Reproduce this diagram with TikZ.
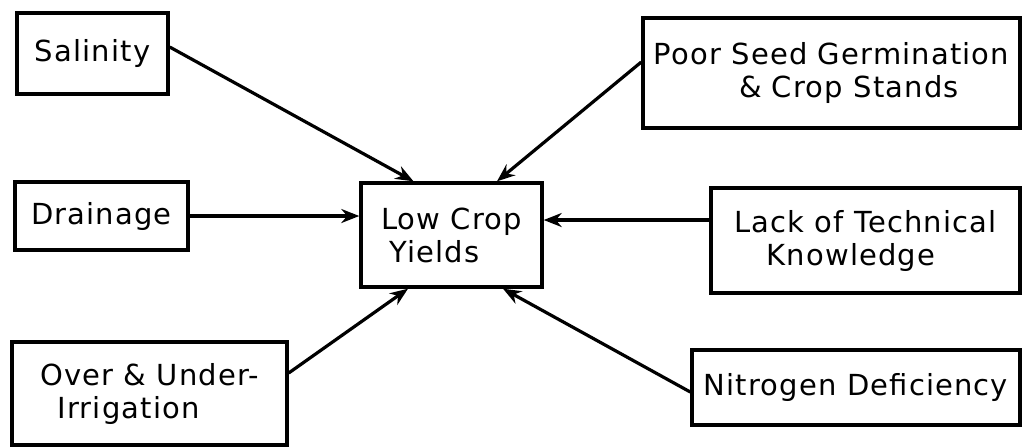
\documentclass[tikz,border=0pt]{standalone}
\usepackage{fontspec}
\setmainfont{DejaVu Sans}[LetterSpace=4]
\usetikzlibrary{arrows.meta}
\begin{document}
\begin{tikzpicture}[x=0.5pt,y=-0.5pt,
    box/.style={draw,line width=1.7pt,inner sep=0pt,font=\fontsize{14.5}{16.5}\selectfont},
    arr/.style={line width=1.6pt,-{Stealth[length=9pt,width=7pt]}}]
    \useasboundingbox (0,0) rectangle (1029,447);
    % boxes (positions in pixels of the reference)
    \node[box,minimum width=75.5pt,minimum height=40.5pt] (sal) at (92.5,53.5) {Salinity};
    \node[box,minimum width=86.5pt,minimum height=34pt] (drain) at (101.5,216) {Drainage};
    \node[box,minimum width=137.5pt,minimum height=51.5pt,align=left] (over) at (149.5,393.5)
        {Over \& Under-\\\hspace*{0.6em}Irrigation};
    \node[box,minimum width=90.5pt,minimum height=52pt,align=left] (low) at (451.5,235)
        {Low Crop\\\hspace*{0.3em}Yields};
    \node[box,minimum width=188.5pt,minimum height=55pt,align=center] (seed) at (831.5,73)
        {Poor Seed Germination\\\hspace*{1.2em}\& Crop Stands};
    \node[box,minimum width=154.5pt,minimum height=52.5pt,align=center] (lack) at (865.5,240.5)
        {Lack of Technical\\Knowledge\hspace*{1em}};
    \node[box,minimum width=164pt,minimum height=37.5pt] (nitro) at (856,387.5) {Nitrogen Deficiency};
    % arrows into the centre box
    \draw[arr] ([yshift=3.25pt]sal.east) -- ([xshift=-19pt]low.north);
    \draw[arr] (drain.east) -- (drain.east -| low.west);
    \draw[arr] ([yshift=10.25pt]over.east) -- ([xshift=-21.75pt]low.south);
    \draw[arr] ([yshift=5.5pt]seed.west) -- ([xshift=22.75pt]low.north);
    \draw[arr] ([yshift=10.25pt]lack.west) -- ([yshift=10.25pt]lack.west -| low.east);
    \draw[arr] ([yshift=-2.25pt]nitro.west) -- ([xshift=25.75pt]low.south);
\end{tikzpicture}
\end{document}
